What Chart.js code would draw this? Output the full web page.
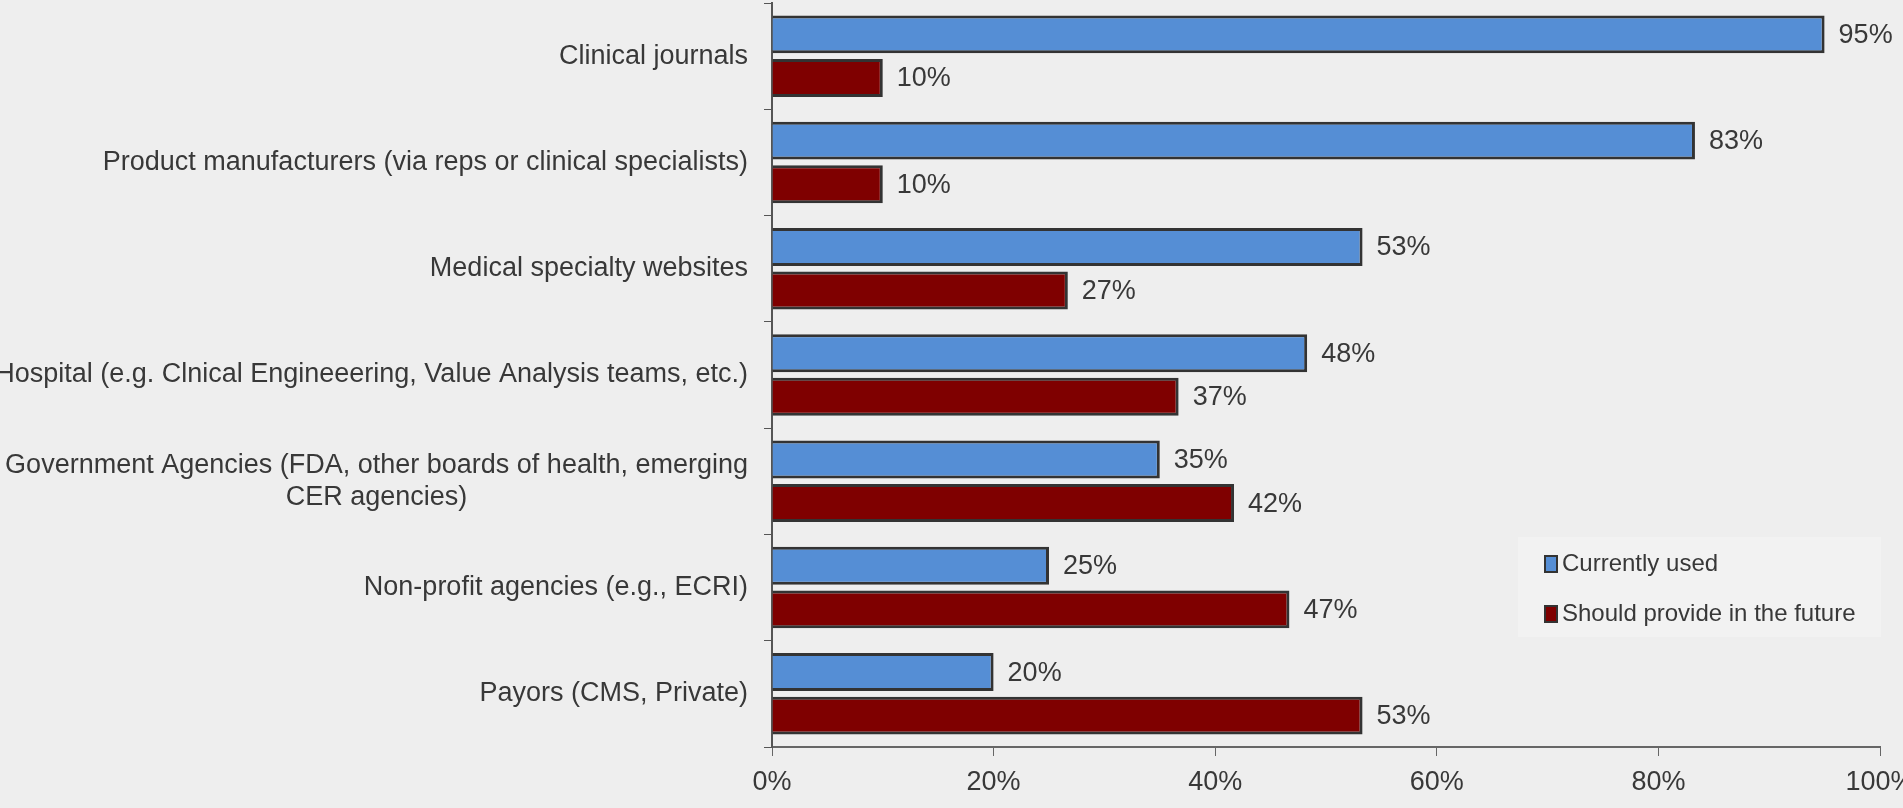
<!DOCTYPE html>
<html>
<head>
<meta charset="utf-8">
<script src="https://cdn.jsdelivr.net/npm/chart.js@4"></script>
<style>
  body { margin: 0; background: #eeeeee; }
  #wrap { width: 1903px; height: 808px; }
</style>
</head>
<body>
<div id="wrap"><canvas id="sourcesChart"></canvas></div>
<script>
const categories = [
  ["Clinical journals"],
  ["Product manufacturers (via reps or clinical specialists)"],
  ["Medical specialty websites"],
  ["Hospital (e.g. Clnical Engineeering, Value Analysis teams, etc.)"],
  ["Government Agencies (FDA, other boards of health, emerging", "CER agencies)"],
  ["Non-profit agencies (e.g., ECRI)"],
  ["Payors (CMS, Private)"]
];
const currentlyUsed = [95, 83.3, 53.3, 48.3, 35, 25, 20];
const shouldProvide = [10, 10, 26.7, 36.7, 41.7, 46.7, 53.3];
const seriesNames = ["Currently used", "Should provide in the future"];
const xTicks = [0, 20, 40, 60, 80, 100];

const FONT = "'Liberation Sans', Arial, sans-serif";
const TEXT = "#383838";

// category labels, right aligned, extra lines centred under the first
const categoryLabels = {
  id: "categoryLabels",
  afterDraw(chart) {
    const ctx = chart.ctx;
    const y = chart.scales.y;
    ctx.save();
    ctx.font = "27px " + FONT;
    ctx.fillStyle = TEXT;
    ctx.textAlign = "center";
    ctx.textBaseline = "middle";
    const right = chart.chartArea.left - 24;
    categories.forEach((lines, i) => {
      const cy = y.getPixelForValue(i);
      const w = Math.max(...lines.map(l => ctx.measureText(l).width));
      const lh = 32;
      lines.forEach((line, j) => {
        ctx.fillText(line, right - w / 2, cy + (j - (lines.length - 1) / 2) * lh);
      });
    });
    ctx.restore();
  }
};

const valueLabels = {
  id: "valueLabels",
  afterDatasetsDraw(chart) {
    const ctx = chart.ctx;
    ctx.save();
    ctx.font = "27px " + FONT;
    ctx.fillStyle = TEXT;
    ctx.textAlign = "left";
    ctx.textBaseline = "middle";
    chart.data.datasets.forEach((ds, di) => {
      chart.getDatasetMeta(di).data.forEach((bar, i) => {
        ctx.fillText(Math.round(ds.data[i]) + "%", bar.x + 14, bar.y + 1);
      });
    });
    ctx.restore();
  }
};

const boxLegend = {
  id: "boxLegend",
  afterDraw(chart) {
    const ctx = chart.ctx;
    const left = 1518, top = 537, w = 363, h = 100;
    ctx.save();
    ctx.fillStyle = "#f2f2f2";
    ctx.fillRect(left, top, w, h);
    ctx.font = "24px " + FONT;
    ctx.textBaseline = "middle";
    ctx.textAlign = "left";
    chart.data.datasets.forEach((ds, i) => {
      const cy = top + 27 + i * 50;
      ctx.fillStyle = ds.backgroundColor;
      ctx.fillRect(left + 26, cy - 9, 14, 18);
      ctx.strokeStyle = "#333333";
      ctx.lineWidth = 2;
      ctx.strokeRect(left + 27, cy - 8, 12, 16);
      ctx.fillStyle = TEXT;
      ctx.fillText(ds.label, left + 44, cy);
    });
    ctx.restore();
  }
};

new Chart(document.getElementById("sourcesChart"), {
  type: "bar",
  data: {
    labels: categories.map(c => c.join(" ")),
    datasets: [
      {
        label: seriesNames[0],
        data: currentlyUsed,
        backgroundColor: "#558ed5",
        borderColor: "#333333",
        borderWidth: 3
      },
      {
        label: seriesNames[1],
        data: shouldProvide,
        backgroundColor: "#7f0000",
        borderColor: "#333333",
        borderWidth: 3
      }
    ]
  },
  plugins: [categoryLabels, valueLabels, boxLegend],
  options: {
    indexAxis: "y",
    responsive: true,
    maintainAspectRatio: false,
    animation: false,
    categoryPercentage: 0.82,
    barPercentage: 0.87,
    layout: { padding: { top: 3, right: 23, bottom: 0, left: 0 } },
    plugins: {
      legend: { display: false },
      tooltip: { enabled: false }
    },
    scales: {
      x: {
        min: 0,
        max: 100,
        afterBuildTicks: s => { s.ticks = xTicks.map(v => ({ value: v })); },
        afterFit: s => { s.height = 61; s.paddingLeft = 0; s.paddingRight = 0; },
        ticks: {
          callback: v => v + "%",
          color: TEXT,
          font: { family: FONT, size: 27 },
          padding: 10,
          maxRotation: 0
        },
        grid: { drawOnChartArea: false, tickLength: 9, color: "#666666", tickColor: "#666666" },
        border: { color: "#666666", width: 2 }
      },
      y: {
        afterFit: s => { s.width = 772; },
        ticks: { display: false },
        grid: { drawOnChartArea: false, offset: true, tickLength: 8, color: "#555555" },
        border: { color: "#555555", width: 2 }
      }
    }
  }
});
</script>
</body>
</html>
